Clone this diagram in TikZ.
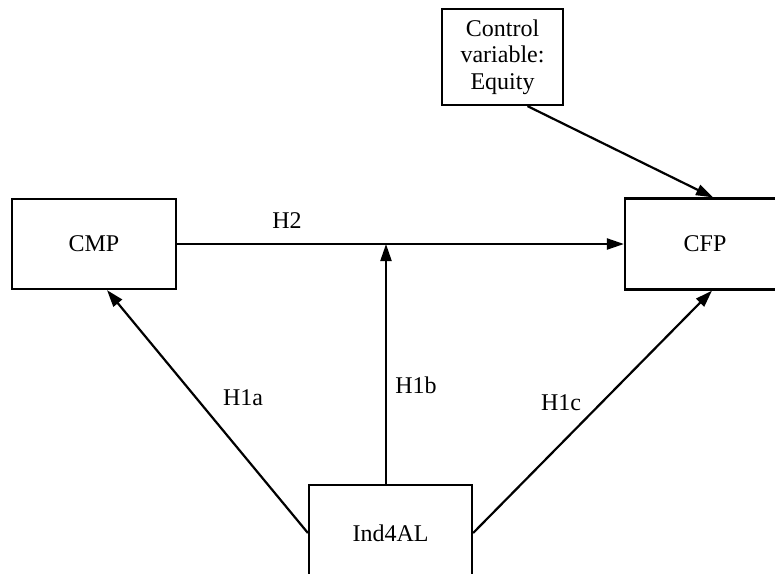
\documentclass[tikz,border=0pt]{standalone}
\usepackage{fontspec}
\setmainfont{Liberation Serif}
\usetikzlibrary{arrows.meta}
\begin{document}
\begin{tikzpicture}[x=1pt,y=-1pt,
  box/.style={draw,line width=2.2pt,inner sep=0pt,align=center,font=\fontsize{24}{26.5}\selectfont},
  conn/.style={line width=2.2pt,-{Triangle[length=17pt,width=11pt]}},
  lbl/.style={font=\fontsize{24}{26}\selectfont,inner sep=0pt}]
\useasboundingbox (0,0) rectangle (775,573);
\clip (0,0) rectangle (775,573);
\node[box,minimum width=121pt,minimum height=96pt] (ctrl) at (502.5,57) {Control\\variable:\\Equity};
\node[box,minimum width=164pt,minimum height=90pt] (cmp) at (94,244) {CMP};
\node[box,minimum width=160pt,minimum height=91pt] (cfp) at (705,244) {CFP};
\node[box,minimum width=163pt,minimum height=96pt] (ind) at (390.5,533) {Ind4AL};
\coordinate (j) at (386,244);
\draw[conn] (cmp.east) -- (cfp.west);
\draw[conn] ([xshift=-4.5pt]ind.north) -- (j);
\draw[conn] (ind.west) -- ([xshift=13pt]cmp.south);
\draw[conn] (ind.east) -- ([xshift=7pt]cfp.south);
\draw[conn] ([xshift=25pt]ctrl.south) -- ([xshift=8pt]cfp.north);
\node[lbl] (h2) at (287,221) {H2};
\node[lbl] (h1a) at (243,398) {H1a};
\node[lbl] (h1b) at (416,385) {H1b};
\node[lbl] (h1c) at (561,403) {H1c};
\end{tikzpicture}
\end{document}
